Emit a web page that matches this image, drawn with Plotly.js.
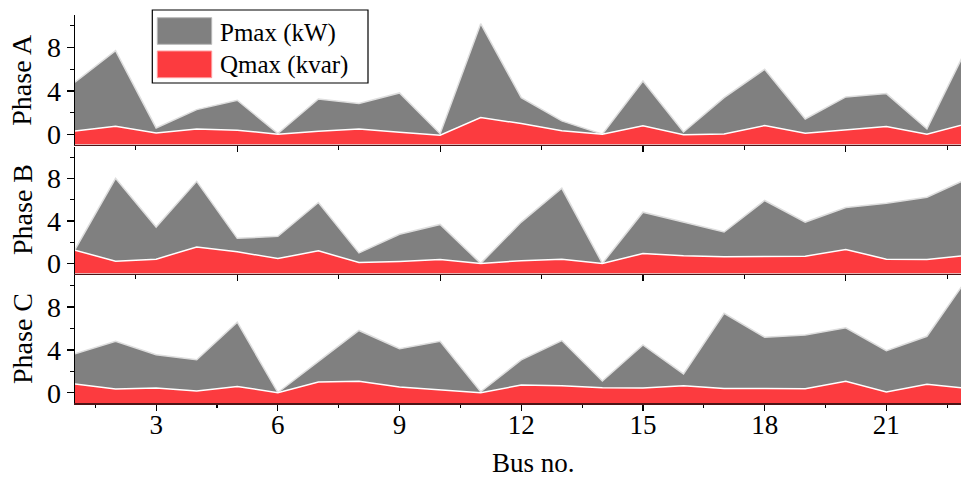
<!DOCTYPE html>
<html>
<head>
<meta charset="utf-8">
<script src="https://cdn.plot.ly/plotly-3.0.1.min.js"></script>
<style>
  html, body { margin: 0; padding: 0; background: #fff; overflow: hidden; }
  #chart { width: 961px; height: 477px; }
</style>
</head>
<body>
<div id="chart"></div>
<script>
// Bus numbers along the feeder
const busNo = [1, 2, 3, 4, 5, 6, 7, 8, 9, 10, 11, 12, 13, 14, 15, 16, 17, 18, 19, 20, 21, 22, 23];

// Phase A
const phaseA_P = [4.8, 7.7, 0.58, 2.27, 3.13, 0.06, 3.25, 2.83, 3.81, 0.05, 10.2, 3.38, 1.23, 0.0, 4.91, 0.2, 3.38, 5.99, 1.41, 3.44, 3.75, 0.49, 8.08];
const phaseA_Q = [0.3, 0.74, 0.12, 0.49, 0.37, 0.0, 0.28, 0.49, 0.18, -0.1, 1.54, 0.98, 0.31, 0.0, 0.77, -0.05, 0.03, 0.8, 0.09, 0.43, 0.71, 0.0, 0.98];

// Phase B
const phaseB_P = [1.3, 8.0, 3.42, 7.72, 2.36, 2.55, 5.73, 0.99, 2.74, 3.67, 0.0, 3.89, 7.07, 0.0, 4.82, 3.89, 2.95, 5.92, 3.89, 5.26, 5.67, 6.22, 7.97];
const phaseB_Q = [1.24, 0.21, 0.4, 1.55, 1.09, 0.46, 1.18, 0.09, 0.19, 0.37, 0.0, 0.25, 0.4, 0.0, 0.93, 0.71, 0.62, 0.62, 0.68, 1.31, 0.4, 0.37, 0.77];

// Phase C
const phaseC_P = [3.65, 4.81, 3.56, 3.08, 6.6, 0.03, 2.93, 5.82, 4.12, 4.81, 0.1, 3.08, 4.88, 1.1, 4.47, 1.76, 7.42, 5.19, 5.41, 6.07, 3.93, 5.28, 10.7];
const phaseC_Q = [0.82, 0.35, 0.44, 0.16, 0.6, 0.0, 1.01, 1.07, 0.54, 0.25, 0.0, 0.73, 0.66, 0.47, 0.44, 0.66, 0.41, 0.41, 0.38, 1.07, 0.07, 0.79, 0.41];

const phaseNames = ['Phase A', 'Phase B', 'Phase C'];
const seriesNames = ['Pmax (kW)', 'Qmax (kvar)'];

// ---- styling ----
const FONT = 'Liberation Serif, Times New Roman, serif';
const GREY = '#808080';
const RED = '#fc3b3f';
const Y_RANGE = [-0.95, 11];
const X_RANGE = [1, 22.84];
const W = 961, H = 477, ML = 75;

// pixel -> paper helpers for layout decoration
const px = v => (v - ML) / (W - ML);
const py = v => 1 - v / H;

// vertical extent of each panel, in pixels
const panelPx = [[15, 144.5], [146.5, 273.5], [275, 403]];

const phases = [
  { P: phaseA_P, Q: phaseA_Q },
  { P: phaseB_P, Q: phaseB_Q },
  { P: phaseC_P, Q: phaseC_Q }
];

// areas fill down to the bottom of each panel
const floorLine = busNo.map(() => Y_RANGE[0]);

const traces = [];
phases.forEach((ph, i) => {
  const xa = i === 0 ? 'x' : 'x' + (i + 1);
  const ya = i === 0 ? 'y' : 'y' + (i + 1);
  const floorTrace = {
    x: busNo, y: floorLine, xaxis: xa, yaxis: ya, mode: 'lines',
    line: { width: 0 }, hoverinfo: 'skip', showlegend: false
  };
  traces.push(Object.assign({}, floorTrace));
  traces.push({
    x: busNo, y: ph.P, xaxis: xa, yaxis: ya, name: seriesNames[0],
    mode: 'lines', fill: 'tonexty', fillcolor: GREY,
    line: { color: '#dedede', width: 1.5 }, showlegend: false
  });
  traces.push(Object.assign({}, floorTrace));
  traces.push({
    x: busNo, y: ph.Q, xaxis: xa, yaxis: ya, name: seriesNames[1],
    mode: 'lines', fill: 'tonexty', fillcolor: RED,
    line: { color: '#ffffff', width: 1.5 }, showlegend: false
  });
});

function yAxis(i) {
  return {
    domain: [py(panelPx[i][1]), py(panelPx[i][0])],
    range: Y_RANGE, anchor: i === 0 ? 'x' : 'x' + (i + 1),
    showgrid: false, zeroline: false,
    showline: true, linecolor: '#000', linewidth: 1.3,
    ticks: 'outside', ticklen: 7, tickwidth: 1.3, tickcolor: '#000',
    tick0: 0, dtick: 4,
    minor: { ticks: 'outside', tick0: 0, dtick: 2, ticklen: 4, tickwidth: 1.2, tickcolor: '#000' },
    tickfont: { family: FONT, size: 28, color: '#000' },
    automargin: false, fixedrange: true
  };
}

function xAxis(i) {
  const last = i === 2;
  return {
    domain: [0, 1], range: X_RANGE,
    anchor: i === 0 ? 'y' : 'y' + (i + 1),
    showgrid: false, zeroline: false,
    showline: true, linecolor: '#4d1416', linewidth: 1.6,
    ticks: 'outside', ticklen: 6, tickwidth: 1.2, tickcolor: '#000',
    tick0: 0, dtick: last ? 3 : 5,
    minor: { ticks: 'outside', tick0: 0, dtick: last ? 1.5 : 2.5, ticklen: 3.5, tickwidth: 1.1, tickcolor: '#000' },
    showticklabels: last,
    ticklabelstandoff: -9,
    tickfont: { family: FONT, size: 27, color: '#000' },
    automargin: false, fixedrange: true
  };
}

const annotations = phaseNames.map((name, i) => ({
  text: name, xref: 'paper', yref: 'paper',
  x: px(22), y: py((panelPx[i][0] + panelPx[i][1]) / 2),
  xanchor: 'center', yanchor: 'middle', textangle: -90, showarrow: false,
  font: { family: FONT, size: 28, color: '#000' }
}));

annotations.push({
  text: 'Bus no.', xref: 'paper', yref: 'paper',
  x: px(533), y: py(463), xanchor: 'center', yanchor: 'middle', showarrow: false,
  font: { family: FONT, size: 27, color: '#000' }
});

// legend entries
annotations.push({
  text: seriesNames[0], xref: 'paper', yref: 'paper',
  x: px(218), y: py(33), xanchor: 'left', yanchor: 'middle', showarrow: false,
  font: { family: FONT, size: 25, color: '#000' }
});
annotations.push({
  text: seriesNames[1], xref: 'paper', yref: 'paper',
  x: px(218), y: py(65), xanchor: 'left', yanchor: 'middle', showarrow: false,
  font: { family: FONT, size: 25, color: '#000' }
});

const shapes = [
  { type: 'rect', xref: 'paper', yref: 'paper', layer: 'above',
    x0: px(152.3), x1: px(368), y0: py(83), y1: py(10),
    fillcolor: '#ffffff', line: { color: '#000', width: 1.2 } },
  { type: 'rect', xref: 'paper', yref: 'paper', layer: 'above',
    x0: px(157.3), x1: px(211.7), y0: py(44.3), y1: py(17.7),
    fillcolor: GREY, line: { color: '#b8b8b8', width: 1 } },
  { type: 'rect', xref: 'paper', yref: 'paper', layer: 'above',
    x0: px(157.3), x1: px(211.7), y0: py(77.7), y1: py(51),
    fillcolor: RED, line: { color: '#ff9a9c', width: 1 } }
];

const layout = {
  width: W, height: H,
  margin: { l: ML, r: 0, t: 0, b: 0, pad: 0 },
  paper_bgcolor: '#ffffff', plot_bgcolor: 'rgba(0,0,0,0)',
  showlegend: false,
  font: { family: FONT, color: '#000' },
  xaxis: xAxis(0), xaxis2: xAxis(1), xaxis3: xAxis(2),
  yaxis: yAxis(0), yaxis2: yAxis(1), yaxis3: yAxis(2),
  annotations: annotations,
  shapes: shapes
};

Plotly.newPlot('chart', traces, layout, { displayModeBar: false, staticPlot: true });
</script>
</body>
</html>
